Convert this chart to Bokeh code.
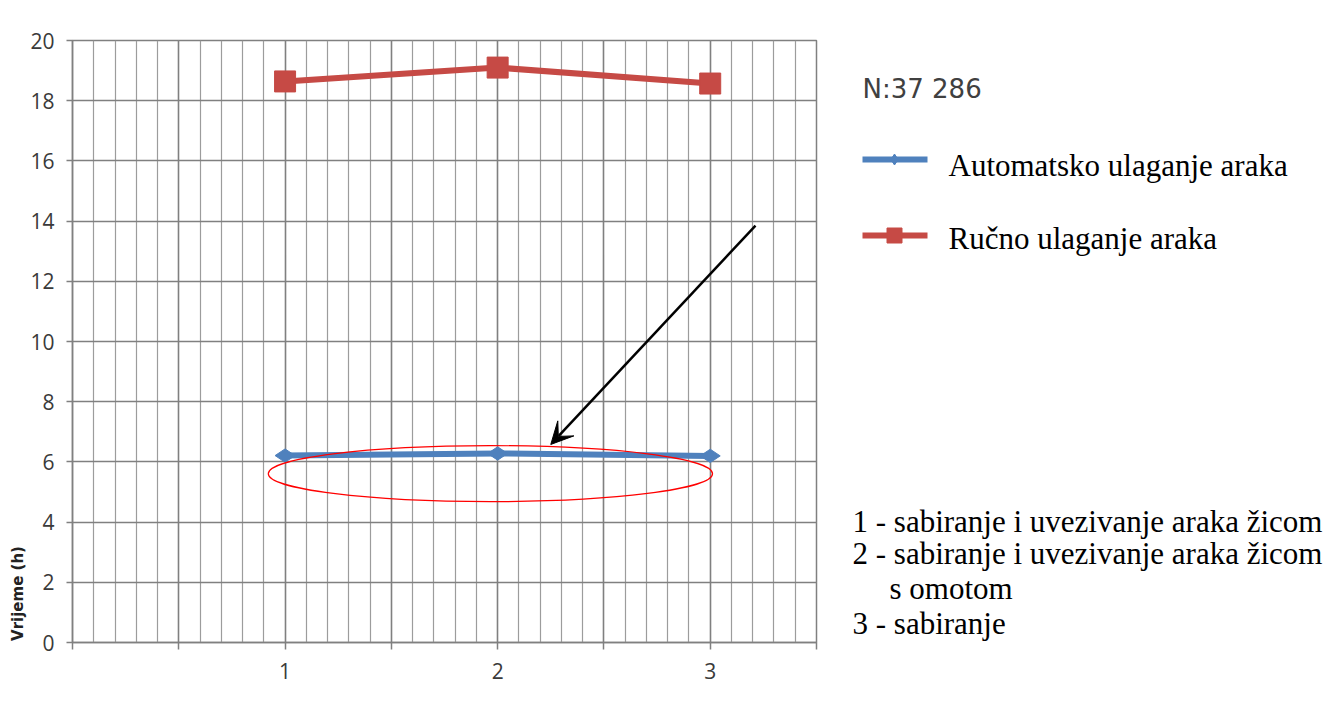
import numpy as np
from math import pi
from bokeh.plotting import figure
from bokeh.models import Range1d, FixedTicker, Arrow, VeeHead
from bokeh.layouts import row
from bokeh.embed import file_html
from bokeh.resources import INLINE
from bokeh.core.properties import value

# ---- data ----
categories = [1, 2, 3]
automatsko = [6.21, 6.28, 6.20]
rucno = [18.64, 19.10, 18.57]
y_ticks = list(range(0, 21, 2))
x_major = [0, 0.5, 1, 1.5, 2, 2.5, 3, 3.5]
x_labels = {0: "", 0.5: "", 1: "1", 1.5: "", 2: "2", 2.5: "", 3: "3", 3.5: ""}
n_text = "N:37 286"
series_names = ["Automatsko ulaganje araka", "Ručno ulaganje araka"]
notes = ["1 - sabiranje i uvezivanje araka žicom",
         "2 - sabiranje i uvezivanje araka žicom",
         "s omotom",
         "3 - sabiranje"]
y_title = "Vrijeme (h)"

BLUE = "#4f81bd"
RED = "#c64a45"
GRID = "#808080"
MINOR = "#9c9c9c"
H = 700
TOP, BOTTOM = 40, 58          # borders shared by all panels (frames are aligned in a row)
FRAME_TOP, FRAME_BOTTOM = TOP, H - BOTTOM


def blank(width, x0):
    # side panel whose data coordinates equal page pixels (y measured from the top)
    f = figure(width=width, height=H, x_range=Range1d(x0, x0 + width),
               y_range=Range1d(FRAME_BOTTOM, FRAME_TOP), title=None,
               output_backend="svg", toolbar_location=None,
               min_border_left=0, min_border_right=0,
               min_border_top=TOP, min_border_bottom=BOTTOM)
    f.axis.visible = False
    f.grid.visible = False
    f.outline_line_color = None
    f.background_fill_color = "white"
    f.border_fill_color = "white"
    return f


# ---- y title strip ----
t = blank(27, 0)
t.text(x=[17], y=[593], text=[y_title], angle=pi / 2, text_align="center",
       text_baseline="middle", text_font=value("DejaVu Sans"), text_font_style="bold",
       text_font_size="15px", text_color="#222222")

# ---- main chart ----
p = figure(width=799, height=H, x_range=Range1d(0, 3.5), y_range=Range1d(0, 20),
           title=None, output_backend="svg", toolbar_location=None,
           min_border_left=44, min_border_right=10, min_border_top=TOP, min_border_bottom=BOTTOM)
p.background_fill_color = "white"
p.border_fill_color = "white"
p.outline_line_color = GRID
p.outline_line_width = 1.5

minor = [round(v, 2) for v in np.arange(0, 3.501, 0.1)]
p.xaxis.ticker = FixedTicker(ticks=x_major, minor_ticks=minor)
p.yaxis.ticker = FixedTicker(ticks=y_ticks)
p.xaxis.major_label_overrides = x_labels

for ax in (p.xaxis, p.yaxis):
    ax.axis_line_color = GRID
    ax.axis_line_width = 1.5
    ax.major_tick_line_color = GRID
    ax.major_tick_line_width = 1.5
    ax.major_tick_in = 0
    ax.minor_tick_line_color = None
    ax.major_label_text_font = "Open Sans"
    ax.major_label_text_font_size = "21px"
    ax.major_label_text_color = "#3a3a3a"
p.xaxis.major_tick_out = 7
p.yaxis.major_tick_out = 6
p.xaxis.major_label_standoff = 13
p.yaxis.major_label_standoff = 12

p.xgrid.grid_line_color = GRID
p.xgrid.grid_line_width = 1.5
p.xgrid.minor_grid_line_color = MINOR
p.xgrid.minor_grid_line_width = 1.2
p.ygrid.grid_line_color = GRID
p.ygrid.grid_line_width = 1.5

p.line(categories, rucno, line_color=RED, line_width=6)
p.scatter(categories, rucno, marker="square", size=21, fill_color=RED, line_color=RED)
p.line(categories, automatsko, line_color=BLUE, line_width=6)
p.scatter(categories, automatsko, marker="diamond", size=20, angle=pi / 2,
          fill_color=BLUE, line_color=BLUE)

# red ellipse highlight and arrow
p.ellipse(x=[1.966], y=[5.61], width=2.09, height=1.86, fill_color=None,
          line_color="#ff0000", line_width=1.2)
p.add_layout(Arrow(end=VeeHead(size=22, fill_color="black", line_color="black"),
                   x_start=3.213, y_start=13.85, x_end=2.25, y_end=6.58,
                   line_color="black", line_width=2.5))

# ---- right side: legend and notes ----
q = blank(513, 826)

q.text(x=[862], y=[88], text=[n_text], text_font=value("DejaVu Sans"),
       text_font_size="26px", text_baseline="alphabetic", text_color="#404040")

q.line([862, 927], [159, 159], line_color=BLUE, line_width=6)
q.scatter([894], [159], marker="diamond", size=11, fill_color=BLUE, line_color=BLUE)
q.line([862, 927], [235, 235], line_color=RED, line_width=6)
q.scatter([894], [235], marker="square", size=15, fill_color=RED, line_color=RED)

q.text(x=[948, 948], y=[165, 238], text=series_names,
       text_font=value("Liberation Serif"), text_font_size="31px",
       text_baseline="alphabetic", text_color="black")

q.text(x=[852, 852, 889, 852], y=[521, 553, 588, 623], text=notes,
       text_font=value("Liberation Serif"), text_font_size="31px",
       text_baseline="alphabetic", text_color="black")

layout = row(t, p, q)
open("out.html", "w").write(file_html(layout, INLINE))
